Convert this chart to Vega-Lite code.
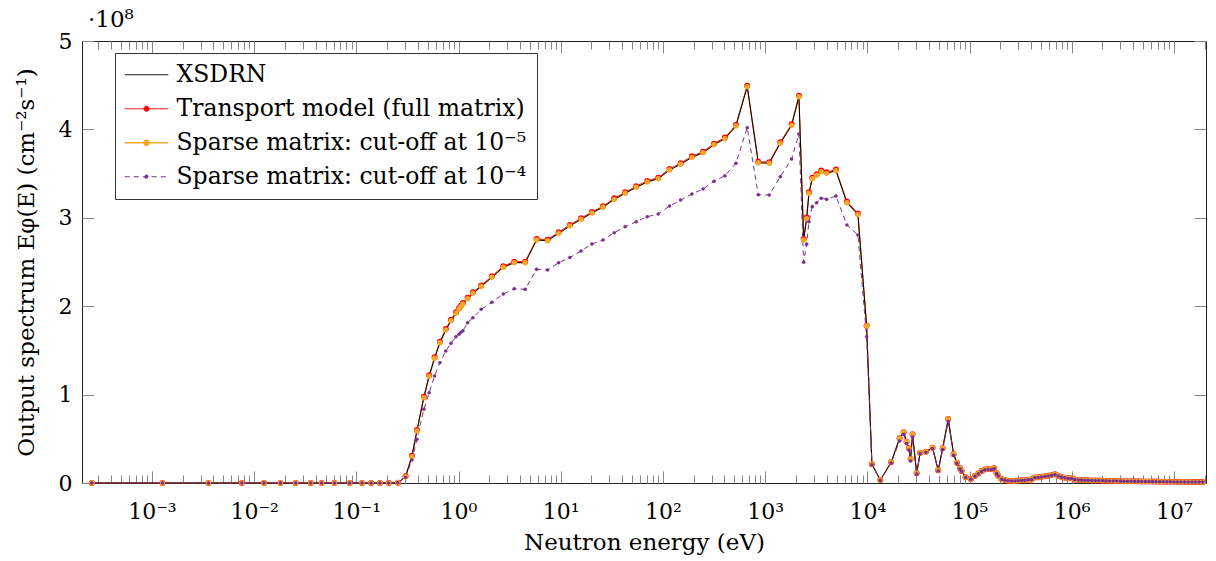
{
  "$schema": "https://vega.github.io/schema/vega-lite/v6.json",
  "width": 1124,
  "height": 442,
  "autosize": "none",
  "padding": {"left": 82, "top": 41, "right": 10, "bottom": 78},
  "background": "white",
  "config": {
    "font": "DejaVu Serif",
    "view": {"stroke": "#222", "strokeWidth": 1},
    "axis": {"labelFont": "DejaVu Serif", "titleFont": "DejaVu Serif", "labelFontSize": 22, "titleFontSize": 23, "titleFontWeight": "normal", "labelColor": "#000", "titleColor": "#000", "tickColor": "#888", "tickWidth": 1, "domain": false, "grid": false}
  },
  "title": {"text": "·10⁸", "anchor": "start", "frame": "group", "font": "DejaVu Serif", "fontSize": 23, "fontWeight": "normal", "offset": 6, "dy": 8, "dx": 6},
  "data": {"values": [
    {"E": 0.000258, "xsdrn": 0, "full": 0, "cut5": 0, "cut4": 0},
    {"E": 0.00127, "xsdrn": 0, "full": 0, "cut5": 0, "cut4": 0},
    {"E": 0.00358, "xsdrn": 0, "full": 0, "cut5": 0, "cut4": 0},
    {"E": 0.00759, "xsdrn": 0, "full": 0, "cut5": 0, "cut4": 0},
    {"E": 0.0125, "xsdrn": 0, "full": 0, "cut5": 0, "cut4": 0},
    {"E": 0.0181, "xsdrn": 0, "full": 0, "cut5": 0, "cut4": 0},
    {"E": 0.0255, "xsdrn": 0, "full": 0, "cut5": 0, "cut4": 0},
    {"E": 0.0358, "xsdrn": 0, "full": 0, "cut5": 0, "cut4": 0},
    {"E": 0.0458, "xsdrn": 0, "full": 0, "cut5": 0, "cut4": 0},
    {"E": 0.0611, "xsdrn": 0, "full": 0, "cut5": 0, "cut4": 0},
    {"E": 0.0861, "xsdrn": 0, "full": 0, "cut5": 0, "cut4": 0},
    {"E": 0.1135, "xsdrn": 0, "full": 0, "cut5": 0, "cut4": 0},
    {"E": 0.1396, "xsdrn": 0, "full": 0, "cut5": 0, "cut4": 0},
    {"E": 0.17, "xsdrn": 0, "full": 0, "cut5": 0, "cut4": 0},
    {"E": 0.2075, "xsdrn": 0, "full": 0, "cut5": 0, "cut4": 0},
    {"E": 0.255, "xsdrn": 0.004, "full": 0.004, "cut5": 0.004, "cut4": 0.003},
    {"E": 0.3035, "xsdrn": 0.071, "full": 0.075, "cut5": 0.071, "cut4": 0.065},
    {"E": 0.35, "xsdrn": 0.298, "full": 0.308, "cut5": 0.298, "cut4": 0.26},
    {"E": 0.392, "xsdrn": 0.588, "full": 0.6, "cut5": 0.588, "cut4": 0.494},
    {"E": 0.458, "xsdrn": 0.965, "full": 0.977, "cut5": 0.965, "cut4": 0.834},
    {"E": 0.516, "xsdrn": 1.207, "full": 1.219, "cut5": 1.207, "cut4": 1.021},
    {"E": 0.583, "xsdrn": 1.411, "full": 1.423, "cut5": 1.411, "cut4": 1.21},
    {"E": 0.658, "xsdrn": 1.587, "full": 1.599, "cut5": 1.587, "cut4": 1.361},
    {"E": 0.751, "xsdrn": 1.731, "full": 1.743, "cut5": 1.731, "cut4": 1.493},
    {"E": 0.844, "xsdrn": 1.836, "full": 1.848, "cut5": 1.836, "cut4": 1.58},
    {"E": 0.944, "xsdrn": 1.92, "full": 1.932, "cut5": 1.92, "cut4": 1.655},
    {"E": 1.01, "xsdrn": 1.965, "full": 1.977, "cut5": 1.965, "cut4": 1.682},
    {"E": 1.055, "xsdrn": 1.994, "full": 2.006, "cut5": 1.994, "cut4": 1.705},
    {"E": 1.104, "xsdrn": 2.025, "full": 2.037, "cut5": 2.025, "cut4": 1.723},
    {"E": 1.227, "xsdrn": 2.085, "full": 2.097, "cut5": 2.085, "cut4": 1.813},
    {"E": 1.383, "xsdrn": 2.146, "full": 2.158, "cut5": 2.146, "cut4": 1.87},
    {"E": 1.667, "xsdrn": 2.223, "full": 2.235, "cut5": 2.223, "cut4": 1.965},
    {"E": 2.12, "xsdrn": 2.327, "full": 2.339, "cut5": 2.327, "cut4": 2.044},
    {"E": 2.74, "xsdrn": 2.44, "full": 2.452, "cut5": 2.44, "cut4": 2.138},
    {"E": 3.51, "xsdrn": 2.492, "full": 2.504, "cut5": 2.492, "cut4": 2.198},
    {"E": 4.49, "xsdrn": 2.492, "full": 2.504, "cut5": 2.492, "cut4": 2.191},
    {"E": 5.81, "xsdrn": 2.749, "full": 2.761, "cut5": 2.749, "cut4": 2.417},
    {"E": 7.44, "xsdrn": 2.741, "full": 2.753, "cut5": 2.741, "cut4": 2.41},
    {"E": 9.54, "xsdrn": 2.825, "full": 2.837, "cut5": 2.825, "cut4": 2.492},
    {"E": 12.3, "xsdrn": 2.907, "full": 2.919, "cut5": 2.907, "cut4": 2.551},
    {"E": 15.8, "xsdrn": 2.983, "full": 2.995, "cut5": 2.983, "cut4": 2.624},
    {"E": 20.2, "xsdrn": 3.054, "full": 3.066, "cut5": 3.054, "cut4": 2.704},
    {"E": 25.9, "xsdrn": 3.119, "full": 3.131, "cut5": 3.119, "cut4": 2.749},
    {"E": 33.4, "xsdrn": 3.209, "full": 3.221, "cut5": 3.209, "cut4": 2.831},
    {"E": 42.7, "xsdrn": 3.277, "full": 3.289, "cut5": 3.277, "cut4": 2.899},
    {"E": 54.8, "xsdrn": 3.345, "full": 3.357, "cut5": 3.345, "cut4": 2.956},
    {"E": 70.2, "xsdrn": 3.405, "full": 3.417, "cut5": 3.405, "cut4": 3.012},
    {"E": 89.9, "xsdrn": 3.442, "full": 3.454, "cut5": 3.442, "cut4": 3.043},
    {"E": 116, "xsdrn": 3.541, "full": 3.553, "cut5": 3.541, "cut4": 3.133},
    {"E": 149, "xsdrn": 3.605, "full": 3.617, "cut5": 3.605, "cut4": 3.201},
    {"E": 192, "xsdrn": 3.684, "full": 3.696, "cut5": 3.684, "cut4": 3.269},
    {"E": 247, "xsdrn": 3.736, "full": 3.748, "cut5": 3.736, "cut4": 3.326},
    {"E": 316, "xsdrn": 3.827, "full": 3.839, "cut5": 3.827, "cut4": 3.413},
    {"E": 404, "xsdrn": 3.895, "full": 3.907, "cut5": 3.895, "cut4": 3.476},
    {"E": 518, "xsdrn": 4.038, "full": 4.05, "cut5": 4.038, "cut4": 3.617},
    {"E": 668, "xsdrn": 4.483, "full": 4.495, "cut5": 4.483, "cut4": 4.019},
    {"E": 857, "xsdrn": 3.623, "full": 3.635, "cut5": 3.623, "cut4": 3.261},
    {"E": 1097, "xsdrn": 3.617, "full": 3.629, "cut5": 3.617, "cut4": 3.258},
    {"E": 1406, "xsdrn": 3.843, "full": 3.855, "cut5": 3.843, "cut4": 3.465},
    {"E": 1817, "xsdrn": 4.046, "full": 4.058, "cut5": 4.046, "cut4": 3.665},
    {"E": 2142, "xsdrn": 4.37, "full": 4.382, "cut5": 4.37, "cut4": 3.948},
    {"E": 2383, "xsdrn": 2.749, "full": 2.761, "cut5": 2.749, "cut4": 2.497},
    {"E": 2548, "xsdrn": 2.99, "full": 3.002, "cut5": 2.99, "cut4": 2.7},
    {"E": 2685, "xsdrn": 3.277, "full": 3.289, "cut5": 3.277, "cut4": 2.956},
    {"E": 2891, "xsdrn": 3.442, "full": 3.454, "cut5": 3.442, "cut4": 3.126},
    {"E": 3192, "xsdrn": 3.481, "full": 3.493, "cut5": 3.481, "cut4": 3.171},
    {"E": 3540, "xsdrn": 3.522, "full": 3.534, "cut5": 3.522, "cut4": 3.221},
    {"E": 3998, "xsdrn": 3.503, "full": 3.515, "cut5": 3.503, "cut4": 3.209},
    {"E": 4932, "xsdrn": 3.533, "full": 3.545, "cut5": 3.533, "cut4": 3.247},
    {"E": 6313, "xsdrn": 3.171, "full": 3.183, "cut5": 3.171, "cut4": 2.919},
    {"E": 8090, "xsdrn": 3.037, "full": 3.049, "cut5": 3.037, "cut4": 2.805},
    {"E": 9840, "xsdrn": 1.776, "full": 1.78, "cut5": 1.776, "cut4": 1.655},
    {"E": 11100, "xsdrn": 0.212, "full": 0.212, "cut5": 0.212, "cut4": 0.205},
    {"E": 13400, "xsdrn": 0.034, "full": 0.034, "cut5": 0.034, "cut4": 0.03},
    {"E": 17100, "xsdrn": 0.234, "full": 0.234, "cut5": 0.234, "cut4": 0.225},
    {"E": 20700, "xsdrn": 0.506, "full": 0.506, "cut5": 0.506, "cut4": 0.475},
    {"E": 22700, "xsdrn": 0.574, "full": 0.574, "cut5": 0.574, "cut4": 0.55},
    {"E": 24200, "xsdrn": 0.467, "full": 0.467, "cut5": 0.467, "cut4": 0.447},
    {"E": 25500, "xsdrn": 0.393, "full": 0.393, "cut5": 0.393, "cut4": 0.373},
    {"E": 26500, "xsdrn": 0.271, "full": 0.271, "cut5": 0.271, "cut4": 0.249},
    {"E": 27700, "xsdrn": 0.551, "full": 0.551, "cut5": 0.551, "cut4": 0.52},
    {"E": 30400, "xsdrn": 0.11, "full": 0.11, "cut5": 0.11, "cut4": 0.1},
    {"E": 32900, "xsdrn": 0.343, "full": 0.343, "cut5": 0.343, "cut4": 0.333},
    {"E": 37400, "xsdrn": 0.354, "full": 0.354, "cut5": 0.354, "cut4": 0.347},
    {"E": 43500, "xsdrn": 0.399, "full": 0.399, "cut5": 0.399, "cut4": 0.39},
    {"E": 49400, "xsdrn": 0.144, "full": 0.144, "cut5": 0.144, "cut4": 0.135},
    {"E": 54600, "xsdrn": 0.393, "full": 0.393, "cut5": 0.393, "cut4": 0.378},
    {"E": 61900, "xsdrn": 0.724, "full": 0.724, "cut5": 0.724, "cut4": 0.695},
    {"E": 69900, "xsdrn": 0.325, "full": 0.325, "cut5": 0.325, "cut4": 0.312},
    {"E": 75300, "xsdrn": 0.23, "full": 0.23, "cut5": 0.23, "cut4": 0.222},
    {"E": 80600, "xsdrn": 0.166, "full": 0.166, "cut5": 0.166, "cut4": 0.16},
    {"E": 83700, "xsdrn": 0.136, "full": 0.136, "cut5": 0.136, "cut4": 0.131},
    {"E": 91600, "xsdrn": 0.064, "full": 0.064, "cut5": 0.064, "cut4": 0.062},
    {"E": 103000, "xsdrn": 0.045, "full": 0.045, "cut5": 0.045, "cut4": 0.043},
    {"E": 113000, "xsdrn": 0.079, "full": 0.079, "cut5": 0.079, "cut4": 0.076},
    {"E": 122000, "xsdrn": 0.107, "full": 0.107, "cut5": 0.107, "cut4": 0.103},
    {"E": 131000, "xsdrn": 0.136, "full": 0.136, "cut5": 0.136, "cut4": 0.131},
    {"E": 141000, "xsdrn": 0.153, "full": 0.153, "cut5": 0.153, "cut4": 0.148},
    {"E": 152000, "xsdrn": 0.158, "full": 0.158, "cut5": 0.158, "cut4": 0.153},
    {"E": 164000, "xsdrn": 0.158, "full": 0.158, "cut5": 0.158, "cut4": 0.153},
    {"E": 174000, "xsdrn": 0.166, "full": 0.166, "cut5": 0.166, "cut4": 0.16},
    {"E": 184000, "xsdrn": 0.11, "full": 0.11, "cut5": 0.11, "cut4": 0.106},
    {"E": 191000, "xsdrn": 0.083, "full": 0.083, "cut5": 0.083, "cut4": 0.08},
    {"E": 206000, "xsdrn": 0.045, "full": 0.045, "cut5": 0.045, "cut4": 0.043},
    {"E": 222000, "xsdrn": 0.034, "full": 0.034, "cut5": 0.034, "cut4": 0.032},
    {"E": 239000, "xsdrn": 0.026, "full": 0.026, "cut5": 0.026, "cut4": 0.025},
    {"E": 258000, "xsdrn": 0.023, "full": 0.023, "cut5": 0.023, "cut4": 0.022},
    {"E": 278000, "xsdrn": 0.023, "full": 0.023, "cut5": 0.023, "cut4": 0.022},
    {"E": 300000, "xsdrn": 0.026, "full": 0.026, "cut5": 0.026, "cut4": 0.025},
    {"E": 324000, "xsdrn": 0.031, "full": 0.031, "cut5": 0.031, "cut4": 0.03},
    {"E": 348000, "xsdrn": 0.031, "full": 0.031, "cut5": 0.031, "cut4": 0.03},
    {"E": 375000, "xsdrn": 0.037, "full": 0.037, "cut5": 0.037, "cut4": 0.036},
    {"E": 405000, "xsdrn": 0.04, "full": 0.04, "cut5": 0.04, "cut4": 0.038},
    {"E": 436000, "xsdrn": 0.062, "full": 0.062, "cut5": 0.062, "cut4": 0.06},
    {"E": 470000, "xsdrn": 0.064, "full": 0.064, "cut5": 0.064, "cut4": 0.062},
    {"E": 507000, "xsdrn": 0.071, "full": 0.071, "cut5": 0.071, "cut4": 0.068},
    {"E": 547000, "xsdrn": 0.076, "full": 0.076, "cut5": 0.076, "cut4": 0.073},
    {"E": 589000, "xsdrn": 0.083, "full": 0.083, "cut5": 0.083, "cut4": 0.08},
    {"E": 635000, "xsdrn": 0.09, "full": 0.09, "cut5": 0.09, "cut4": 0.087},
    {"E": 685000, "xsdrn": 0.098, "full": 0.098, "cut5": 0.098, "cut4": 0.094},
    {"E": 738000, "xsdrn": 0.083, "full": 0.083, "cut5": 0.083, "cut4": 0.08},
    {"E": 796000, "xsdrn": 0.068, "full": 0.068, "cut5": 0.068, "cut4": 0.066},
    {"E": 858000, "xsdrn": 0.06, "full": 0.06, "cut5": 0.06, "cut4": 0.058},
    {"E": 925000, "xsdrn": 0.053, "full": 0.053, "cut5": 0.053, "cut4": 0.051},
    {"E": 998000, "xsdrn": 0.053, "full": 0.053, "cut5": 0.053, "cut4": 0.051},
    {"E": 1070000, "xsdrn": 0.04, "full": 0.04, "cut5": 0.04, "cut4": 0.038},
    {"E": 1160000, "xsdrn": 0.034, "full": 0.034, "cut5": 0.034, "cut4": 0.033},
    {"E": 1250000, "xsdrn": 0.034, "full": 0.034, "cut5": 0.034, "cut4": 0.033},
    {"E": 1350000, "xsdrn": 0.031, "full": 0.031, "cut5": 0.031, "cut4": 0.03},
    {"E": 1450000, "xsdrn": 0.031, "full": 0.031, "cut5": 0.031, "cut4": 0.03},
    {"E": 1570000, "xsdrn": 0.028, "full": 0.028, "cut5": 0.028, "cut4": 0.027},
    {"E": 1700000, "xsdrn": 0.027, "full": 0.027, "cut5": 0.027, "cut4": 0.026},
    {"E": 1840000, "xsdrn": 0.027, "full": 0.027, "cut5": 0.027, "cut4": 0.026},
    {"E": 2000000, "xsdrn": 0.026, "full": 0.026, "cut5": 0.026, "cut4": 0.025},
    {"E": 2160000, "xsdrn": 0.025, "full": 0.025, "cut5": 0.025, "cut4": 0.024},
    {"E": 2340000, "xsdrn": 0.024, "full": 0.024, "cut5": 0.024, "cut4": 0.023},
    {"E": 2540000, "xsdrn": 0.024, "full": 0.024, "cut5": 0.024, "cut4": 0.023},
    {"E": 2750000, "xsdrn": 0.023, "full": 0.023, "cut5": 0.023, "cut4": 0.022},
    {"E": 2990000, "xsdrn": 0.022, "full": 0.022, "cut5": 0.022, "cut4": 0.021},
    {"E": 3240000, "xsdrn": 0.021, "full": 0.021, "cut5": 0.021, "cut4": 0.02},
    {"E": 3510000, "xsdrn": 0.021, "full": 0.021, "cut5": 0.021, "cut4": 0.02},
    {"E": 3800000, "xsdrn": 0.02, "full": 0.02, "cut5": 0.02, "cut4": 0.019},
    {"E": 4120000, "xsdrn": 0.019, "full": 0.019, "cut5": 0.019, "cut4": 0.018},
    {"E": 4470000, "xsdrn": 0.019, "full": 0.019, "cut5": 0.019, "cut4": 0.018},
    {"E": 4840000, "xsdrn": 0.018, "full": 0.018, "cut5": 0.018, "cut4": 0.017},
    {"E": 5250000, "xsdrn": 0.017, "full": 0.017, "cut5": 0.017, "cut4": 0.016},
    {"E": 5690000, "xsdrn": 0.017, "full": 0.017, "cut5": 0.017, "cut4": 0.016},
    {"E": 6170000, "xsdrn": 0.016, "full": 0.016, "cut5": 0.016, "cut4": 0.015},
    {"E": 6680000, "xsdrn": 0.016, "full": 0.016, "cut5": 0.016, "cut4": 0.015},
    {"E": 7240000, "xsdrn": 0.015, "full": 0.015, "cut5": 0.015, "cut4": 0.014},
    {"E": 7850000, "xsdrn": 0.015, "full": 0.015, "cut5": 0.015, "cut4": 0.014},
    {"E": 8510000, "xsdrn": 0.014, "full": 0.014, "cut5": 0.014, "cut4": 0.013},
    {"E": 9230000, "xsdrn": 0.014, "full": 0.014, "cut5": 0.014, "cut4": 0.013},
    {"E": 10000000, "xsdrn": 0.013, "full": 0.013, "cut5": 0.013, "cut4": 0.012},
    {"E": 10800000, "xsdrn": 0.013, "full": 0.013, "cut5": 0.013, "cut4": 0.012},
    {"E": 11700000, "xsdrn": 0.012, "full": 0.012, "cut5": 0.012, "cut4": 0.011},
    {"E": 12700000, "xsdrn": 0.012, "full": 0.012, "cut5": 0.012, "cut4": 0.011},
    {"E": 13800000, "xsdrn": 0.011, "full": 0.011, "cut5": 0.011, "cut4": 0.01},
    {"E": 15000000, "xsdrn": 0.011, "full": 0.011, "cut5": 0.011, "cut4": 0.01},
    {"E": 16200000, "xsdrn": 0.01, "full": 0.01, "cut5": 0.01, "cut4": 0.01},
    {"E": 17600000, "xsdrn": 0.01, "full": 0.01, "cut5": 0.01, "cut4": 0.01},
    {"E": 19100000, "xsdrn": 0.01, "full": 0.01, "cut5": 0.01, "cut4": 0.01}
  ]},
  "transform": [{"fold": ["xsdrn", "full", "cut5", "cut4"], "as": ["series", "flux"]}],
  "resolve": {"axis": {"x": "independent", "y": "independent"}},
  "layer": [
    {
      "transform": [{"filter": "datum.series === 'full'"}],
      "mark": {"type": "line", "strokeWidth": 1},
      "encoding": {
        "x": {"field": "E", "type": "quantitative", "scale": {"type": "log", "domain": [0.000207, 20600000]},
          "axis": {"orient": "bottom", "values": [0.001, 0.01, 0.1, 1, 10, 100, 1000, 10000, 100000, 1000000, 10000000], "tickSize": -12, "labelPadding": 30, "labelFlush": false, "labelOverlap": false,
            "labelExpr": "'10' + (datum.value < 1 ? '⁻' : '') + ['⁰','¹','²','³','⁴','⁵','⁶','⁷','⁸','⁹'][abs(round(log(datum.value) / LN10))]",
            "title": "Neutron energy (eV)", "titlePadding": 9}},
        "y": {"field": "flux", "type": "quantitative", "scale": {"domain": [0, 5], "nice": false},
          "axis": {"orient": "left", "values": [0, 1, 2, 3, 4, 5], "tickSize": -12, "labelPadding": 22, "labelFlush": false, "title": "Output spectrum Eφ(E) (cm⁻²s⁻¹)", "titlePadding": 20}},
        "color": {"field": "series", "type": "nominal",
          "scale": {"domain": ["xsdrn", "full", "cut5", "cut4"], "range": ["#000000", "#ff0000", "#f2a82a", "#7b2f8f"]},
          "legend": {"orient": "none", "legendX": 33, "legendY": 12, "title": null, "strokeColor": "#333", "fillColor": "white", "padding": 10,
            "labelFont": "DejaVu Serif", "labelFontSize": 23.5, "labelColor": "#000", "labelLimit": 800, "labelOffset": 28,
            "symbolSize": 900, "symbolStrokeWidth": 1, "symbolType": "M-0.8,0H2.1", "rowPadding": 9,
            "labelExpr": "({'xsdrn': 'XSDRN', 'full': 'Transport model (full matrix)', 'cut5': 'Sparse matrix: cut-off at 10⁻⁵', 'cut4': 'Sparse matrix: cut-off at 10⁻⁴'})[datum.value]",
            "encode": {"symbols": {"update": {
              "shape": {"signal": "datum.value === 'xsdrn' ? 'M-0.8,0H2.1' : (datum.value === 'cut4' ? 'M-0.8,0H2.1M0.53,0A0.12,0.12,0,1,1,0.77,0A0.12,0.12,0,1,1,0.53,0' : 'M-0.8,0H2.1M0.48,0A0.17,0.17,0,1,1,0.82,0A0.17,0.17,0,1,1,0.48,0')"},
              "stroke": {"signal": "({'xsdrn': '#000000', 'full': '#ff0000', 'cut5': '#f5c060', 'cut4': '#7b2f8f'})[datum.value]"},
              "fill": {"signal": "datum.value === 'xsdrn' ? 'transparent' : ({'full': '#ff0000', 'cut5': '#f2a82a', 'cut4': '#7b2f8f'})[datum.value]"},
              "strokeDash": {"signal": "datum.value === 'cut4' ? [5, 4] : [1, 0]"},
              "strokeWidth": {"signal": "datum.value === 'cut5' ? 1.6 : 1"},
              "opacity": {"value": 1}
            }}}}}
      }
    },
    {
      "transform": [{"filter": "datum.series === 'cut5'"}],
      "mark": {"type": "line", "strokeWidth": 1.2, "strokeOpacity": 0.75},
      "encoding": {
        "x": {"field": "E", "type": "quantitative", "scale": {"type": "log", "domain": [0.000207, 20600000]},
          "axis": {"orient": "bottom", "values": [0.0003, 0.0004, 0.0005, 0.0006, 0.0007, 0.0008, 0.0009, 0.002, 0.003, 0.004, 0.005, 0.006, 0.007, 0.008, 0.009, 0.02, 0.03, 0.04, 0.05, 0.06, 0.07, 0.08, 0.09, 0.2, 0.3, 0.4, 0.5, 0.6, 0.7, 0.8, 0.9, 2, 3, 4, 5, 6, 7, 8, 9, 20, 30, 40, 50, 60, 70, 80, 90, 200, 300, 400, 500, 600, 700, 800, 900, 2000, 3000, 4000, 5000, 6000, 7000, 8000, 9000, 20000, 30000, 40000, 50000, 60000, 70000, 80000, 90000, 200000, 300000, 400000, 500000, 600000, 700000, 800000, 900000, 2000000, 3000000, 4000000, 5000000, 6000000, 7000000, 8000000, 9000000, 20000000], "tickSize": -8, "labels": false, "title": null}},
        "y": {"field": "flux", "type": "quantitative", "scale": {"domain": [0, 5], "nice": false},
          "axis": {"orient": "right", "values": [0, 1, 2, 3, 4, 5], "tickSize": -12, "labels": false, "title": null}},
        "color": {"field": "series", "type": "nominal", "scale": {"domain": ["xsdrn", "full", "cut5", "cut4"], "range": ["#000000", "#ff0000", "#f2a82a", "#7b2f8f"]}}
      }
    },
    {
      "transform": [{"filter": "datum.series === 'xsdrn'"}],
      "mark": {"type": "line", "strokeWidth": 1},
      "encoding": {
        "x": {"field": "E", "type": "quantitative", "scale": {"type": "log", "domain": [0.000207, 20600000]},
          "axis": {"orient": "top", "values": [0.001, 0.01, 0.1, 1, 10, 100, 1000, 10000, 100000, 1000000, 10000000], "tickSize": -12, "labels": false, "title": null}},
        "y": {"field": "flux", "type": "quantitative", "scale": {"domain": [0, 5], "nice": false}, "axis": null},
        "color": {"field": "series", "type": "nominal", "scale": {"domain": ["xsdrn", "full", "cut5", "cut4"], "range": ["#000000", "#ff0000", "#f2a82a", "#7b2f8f"]}}
      }
    },
    {
      "transform": [{"filter": "datum.series === 'cut4'"}],
      "mark": {"type": "line", "strokeWidth": 1, "strokeDash": [5, 4]},
      "encoding": {
        "x": {"field": "E", "type": "quantitative", "scale": {"type": "log", "domain": [0.000207, 20600000]},
          "axis": {"orient": "top", "values": [0.0003, 0.0004, 0.0005, 0.0006, 0.0007, 0.0008, 0.0009, 0.002, 0.003, 0.004, 0.005, 0.006, 0.007, 0.008, 0.009, 0.02, 0.03, 0.04, 0.05, 0.06, 0.07, 0.08, 0.09, 0.2, 0.3, 0.4, 0.5, 0.6, 0.7, 0.8, 0.9, 2, 3, 4, 5, 6, 7, 8, 9, 20, 30, 40, 50, 60, 70, 80, 90, 200, 300, 400, 500, 600, 700, 800, 900, 2000, 3000, 4000, 5000, 6000, 7000, 8000, 9000, 20000, 30000, 40000, 50000, 60000, 70000, 80000, 90000, 200000, 300000, 400000, 500000, 600000, 700000, 800000, 900000, 2000000, 3000000, 4000000, 5000000, 6000000, 7000000, 8000000, 9000000, 20000000], "tickSize": -8, "labels": false, "title": null}},
        "y": {"field": "flux", "type": "quantitative", "scale": {"domain": [0, 5], "nice": false}, "axis": null},
        "color": {"field": "series", "type": "nominal", "scale": {"domain": ["xsdrn", "full", "cut5", "cut4"], "range": ["#000000", "#ff0000", "#f2a82a", "#7b2f8f"]}}
      }
    },
    {
      "transform": [{"filter": "datum.series === 'full'"}],
      "mark": {"type": "point", "filled": true, "opacity": 1, "size": 36},
      "encoding": {
        "x": {"field": "E", "type": "quantitative", "scale": {"type": "log", "domain": [0.000207, 20600000]}, "axis": null},
        "y": {"field": "flux", "type": "quantitative", "scale": {"domain": [0, 5], "nice": false}, "axis": null},
        "color": {"field": "series", "type": "nominal", "scale": {"domain": ["xsdrn", "full", "cut5", "cut4"], "range": ["#000000", "#ff0000", "#f2a82a", "#7b2f8f"]}}
      }
    },
    {
      "transform": [{"filter": "datum.series === 'cut5'"}],
      "mark": {"type": "point", "filled": true, "opacity": 1, "size": 29},
      "encoding": {
        "x": {"field": "E", "type": "quantitative", "scale": {"type": "log", "domain": [0.000207, 20600000]}, "axis": null},
        "y": {"field": "flux", "type": "quantitative", "scale": {"domain": [0, 5], "nice": false}, "axis": null},
        "color": {"field": "series", "type": "nominal", "scale": {"domain": ["xsdrn", "full", "cut5", "cut4"], "range": ["#000000", "#ff0000", "#f2a82a", "#7b2f8f"]}}
      }
    },
    {
      "transform": [{"filter": "datum.series === 'cut4'"}],
      "mark": {"type": "point", "filled": true, "opacity": 1, "size": 13},
      "encoding": {
        "x": {"field": "E", "type": "quantitative", "scale": {"type": "log", "domain": [0.000207, 20600000]}, "axis": null},
        "y": {"field": "flux", "type": "quantitative", "scale": {"domain": [0, 5], "nice": false}, "axis": null},
        "color": {"field": "series", "type": "nominal", "scale": {"domain": ["xsdrn", "full", "cut5", "cut4"], "range": ["#000000", "#ff0000", "#f2a82a", "#7b2f8f"]}}
      }
    }
  ]
}
